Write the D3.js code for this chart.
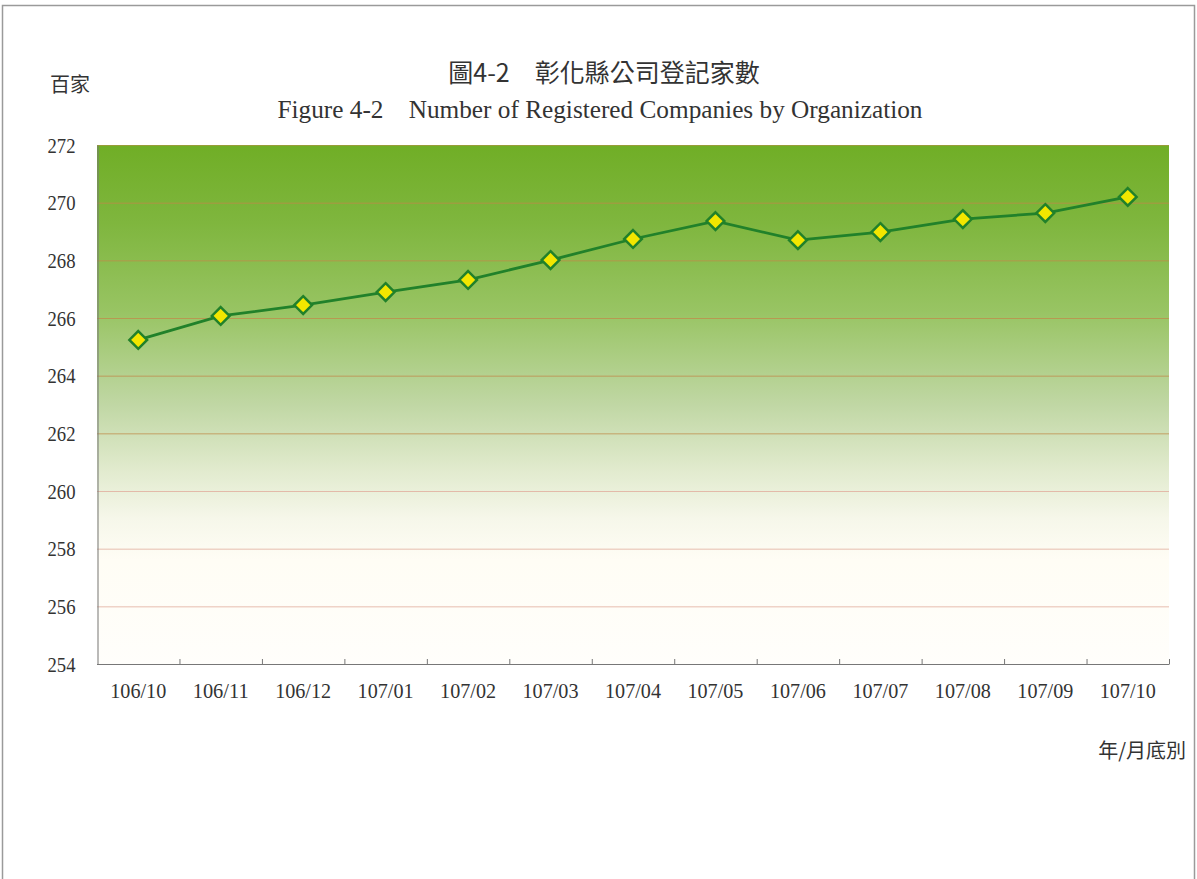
<!DOCTYPE html>
<html>
<head>
<meta charset="utf-8">
<script src="https://cdn.jsdelivr.net/npm/d3@7"></script>
<style>
    body { margin: 0; background: #fff; }
    svg { display: block; }
</style>
</head>
<body>
<div id="grafico"></div>
<script>
document.addEventListener('DOMContentLoaded', () => {
    const width = 1197;
    const height = 879;

    // datos (百家)
    const months = ["106/10", "106/11", "106/12", "107/01", "107/02", "107/03", "107/04",
                    "107/05", "107/06", "107/07", "107/08", "107/09", "107/10"];
    const companies = [265.24, 266.07, 266.45, 266.90, 267.32, 268.01, 268.74,
                       269.36, 268.70, 268.98, 269.43, 269.64, 270.20];
    const yTicks = [254, 256, 258, 260, 262, 264, 266, 268, 270, 272];

    const titleZh = "圖4-2　彰化縣公司登記家數";
    const titleEn = "Figure 4-2    Number of Registered Companies by Organization";

    const left = 97, right = 1169, top = 145, bottom = 664;
    const serif = "'Liberation Serif', 'DejaVu Serif', serif";
    const cjk = "'Noto Sans CJK TC', sans-serif";

    const svg = d3.select('#grafico')
        .append('svg')
        .attr('width', width)
        .attr('height', height);

    // marco de la pagina
    svg.append('path')
        .attr('d', `M2.5,${height} V5.5 H1194.5 V${height}`)
        .attr('fill', 'none')
        .attr('stroke', '#9a9a9a')
        .attr('stroke-width', 1.5);

    const xScale = d3.scaleBand()
        .domain(months)
        .range([left, right]);

    const yScale = d3.scaleLinear()
        .domain([254, 272])
        .range([bottom, top]);

    // degradado verde
    const grad = svg.append('defs').append('linearGradient')
        .attr('id', 'bg')
        .attr('x1', 0).attr('y1', 0).attr('x2', 0).attr('y2', 1);
    const stops = [
        [0, '#70ae26'], [0.15, '#7fb63e'], [0.32, '#98c463'], [0.5, '#c0d7a4'],
        [0.63, '#e2ebcf'], [0.72, '#f6f7ea'], [0.8, '#fffdf5'], [1, '#fffefb']
    ];
    stops.forEach(s => grad.append('stop').attr('offset', s[0]).attr('stop-color', s[1]));

    svg.append('rect')
        .attr('x', left)
        .attr('y', top)
        .attr('width', right - left)
        .attr('height', bottom - top)
        .attr('fill', 'url(#bg)');

    // lineas de la cuadricula
    svg.selectAll('.grid')
        .data(yTicks.slice(1))
        .enter()
        .append('line')
        .attr('class', 'grid')
        .attr('x1', left)
        .attr('x2', right)
        .attr('y1', d => yScale(d) + 0.5)
        .attr('y2', d => yScale(d) + 0.5)
        .attr('stroke', d => d >= 262 ? '#c08a4a' : '#e0a898')
        .attr('stroke-opacity', d => d === 272 ? 0.5 : 0.75)
        .attr('stroke-width', 1);

    // eje y
    const yAxis = d3.axisLeft(yScale)
        .tickValues(yTicks)
        .tickSize(0)
        .tickPadding(22);

    svg.append('g')
        .attr('transform', `translate(${left + 0.5}, 0)`)
        .call(yAxis)
        .call(g => g.select('.domain').attr('stroke', '#777'))
        .call(g => g.selectAll('text')
            .attr('font-family', serif)
            .attr('font-size', 22)
            .attr('fill', '#333')
            .attr('textLength', 28)
            .attr('lengthAdjust', 'spacingAndGlyphs'));

    // eje x con marcas entre categorias
    svg.append('line')
        .attr('x1', left).attr('x2', right + 0.5)
        .attr('y1', bottom + 0.5).attr('y2', bottom + 0.5)
        .attr('stroke', '#777');

    svg.selectAll('.xtick')
        .data(months)
        .enter()
        .append('line')
        .attr('class', 'xtick')
        .attr('x1', d => xScale(d) + xScale.bandwidth() + 0.5)
        .attr('x2', d => xScale(d) + xScale.bandwidth() + 0.5)
        .attr('y1', bottom - 5)
        .attr('y2', bottom)
        .attr('stroke', '#777');

    svg.selectAll('.xlabel')
        .data(months)
        .enter()
        .append('text')
        .attr('class', 'xlabel')
        .attr('x', d => xScale(d) + xScale.bandwidth() / 2)
        .attr('y', 698)
        .attr('text-anchor', 'middle')
        .attr('font-family', serif)
        .attr('font-size', 22)
        .attr('fill', '#333')
        .attr('textLength', 56)
        .attr('lengthAdjust', 'spacingAndGlyphs')
        .text(d => d);

    // linea de datos
    const line = d3.line()
        .x((d, i) => xScale(months[i]) + xScale.bandwidth() / 2)
        .y(d => yScale(d));

    svg.append('path')
        .datum(companies)
        .attr('d', line)
        .attr('fill', 'none')
        .attr('stroke', '#21812a')
        .attr('stroke-width', 2.8);

    svg.selectAll('.dot')
        .data(companies)
        .enter()
        .append('path')
        .attr('class', 'dot')
        .attr('d', d3.symbol().type(d3.symbolDiamond2).size(200))
        .attr('transform', (d, i) => `translate(${xScale(months[i]) + xScale.bandwidth() / 2}, ${yScale(d)})`)
        .attr('fill', '#f2e600')
        .attr('stroke', '#21812a')
        .attr('stroke-width', 2.5);

    // titulos
    svg.append('text')
        .attr('x', 604)
        .attr('y', 82)
        .attr('text-anchor', 'middle')
        .attr('font-family', cjk)
        .attr('font-size', 25)
        .attr('fill', '#333')
        .text(titleZh);

    svg.append('text')
        .attr('x', 600)
        .attr('y', 118)
        .attr('text-anchor', 'middle')
        .attr('font-family', serif)
        .attr('font-size', 25)
        .attr('fill', '#333')
        .attr('textLength', 645)
        .attr('lengthAdjust', 'spacingAndGlyphs')
        .style('white-space', 'pre')
        .text(titleEn);

    svg.append('text')
        .attr('x', 50)
        .attr('y', 92)
        .attr('font-family', cjk)
        .attr('font-size', 20)
        .attr('fill', '#333')
        .text('百家');

    svg.append('text')
        .attr('x', 1186)
        .attr('y', 758)
        .attr('text-anchor', 'end')
        .attr('font-family', cjk)
        .attr('font-size', 20)
        .attr('fill', '#333')
        .text('年/月底別');
});
</script>
</body>
</html>
